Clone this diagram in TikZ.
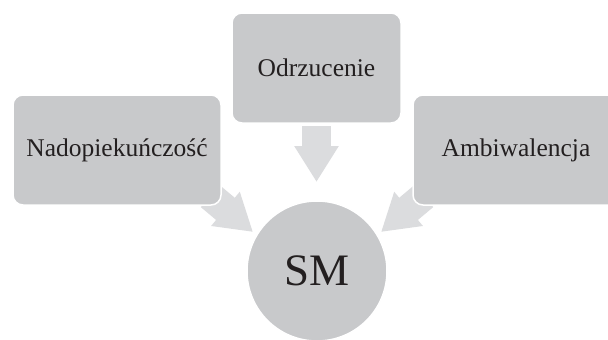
\documentclass[tikz,border=0pt]{standalone}
\usepackage{fontspec}
\setmainfont{Liberation Serif}
\usetikzlibrary{arrows.meta, backgrounds}
\definecolor{boxgray}{RGB}{200,201,203}
\definecolor{arrowgray}{RGB}{219,220,222}
\definecolor{inkgray}{RGB}{35,31,32}

\begin{document}
\begin{tikzpicture}[x=1pt, y=-1pt,
  blok/.style={rectangle, rounded corners=10pt, draw=white, line width=1.5pt, fill=boxgray, minimum height=110pt, inner sep=0pt, text=inkgray, font=\fontsize{25.5}{30}\selectfont},
  krag/.style={circle, draw=white, line width=1.5pt, fill=boxgray, minimum size=140pt, inner sep=0pt, text=inkgray, font=\fontsize{45}{54}\selectfont},
  strzalka/.style={draw=arrowgray, fill=arrowgray, line width=29pt, -{Triangle[length=36pt, width=42pt]}}
]
  \useasboundingbox (0,0) rectangle (608,340);

  \node[blok, minimum width=208pt] (nad) at (117,150) {Nadopiekuńczość};
  \node[blok, minimum width=169pt] (odr) at (316.5,68) {Odrzucenie};
  \node[blok, minimum width=206pt] (amb) at (516,150) {Ambiwalencja};
  \node[krag] (sm) at (317,271) {\raisebox{-4pt}{SM}};

  % strzalki pod blokami
  \coordinate (nadS) at (210.1,196);
  \coordinate (nadT) at (253,232);
  \coordinate (odrS) at (316.5,126);
  \coordinate (odrT) at (316.5,182);
  \coordinate (ambS) at (423.9,196);
  \coordinate (ambT) at (381,232);
  \begin{scope}[on background layer]
    \draw[strzalka] (nadS) -- (nadT);
    \draw[strzalka] (odrS) -- (odrT);
    \draw[strzalka] (ambS) -- (ambT);
  \end{scope}
\end{tikzpicture}
\end{document}
